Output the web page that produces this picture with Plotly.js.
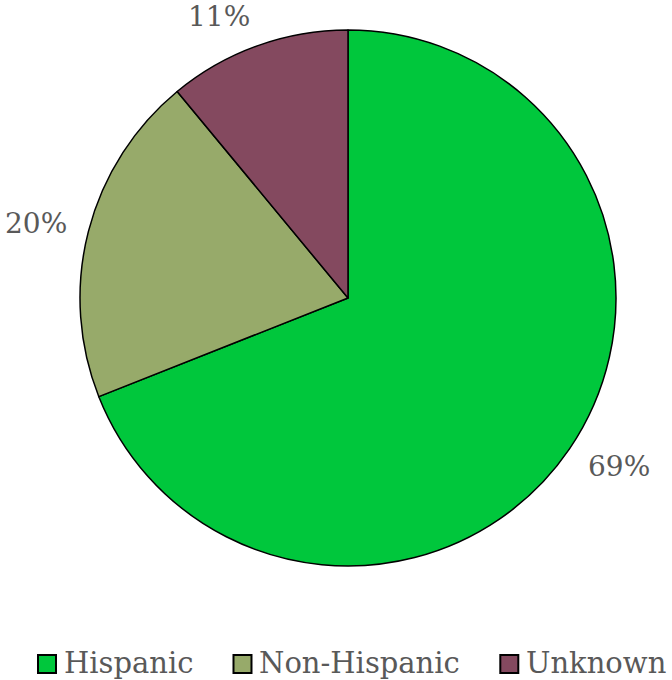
<!DOCTYPE html>
<html>
<head>
<meta charset="utf-8">
<script src="https://cdn.plot.ly/plotly-3.0.1.min.js"></script>
<style>html,body{margin:0;padding:0;background:#fff}#chart{width:672px;height:680px}</style>
</head>
<body>
<div id="chart"></div>
<script>
const categories = ["Hispanic", "Non-Hispanic", "Unknown"];
const values = [69, 20, 11];
const colors = ["#00C73C", "#97AA6A", "#84495F"];

const W = 672, H = 680;
const cx = 348, cy = 298, R = 268, gap = 22;
const FONT = "DejaVu Serif";
const TXT = "#595959";
const domX = [(cx - R) / W, (cx + R) / W];
const domY = [1 - (cy + R) / H, 1 - (cy - R) / H];

const trace = {
  type: "pie",
  labels: categories,
  values: values,
  sort: false,
  direction: "clockwise",
  rotation: 0,
  textinfo: "none",
  marker: {colors: colors, line: {color: "#000000", width: 1.5}},
  domain: {x: domX, y: domY},
  hoverinfo: "none",
  showlegend: false
};

// percentage labels placed just outside each slice's mid-angle
const labSize = 28, halfW = 31, halfH = 9;
const total = values.reduce((a, b) => a + b, 0);
let cum = 0;
const annotations = values.map((v) => {
  const mid = (cum + v / 2) / total * 2 * Math.PI;
  cum += v;
  const s = Math.sin(mid), c = Math.cos(mid);
  const px = cx + (R + gap) * s + halfW * Math.sign(s);
  const py = cy - (R + gap) * c - halfH * c;
  return {
    xref: "paper", yref: "paper", x: px / W, y: 1 - py / H,
    xanchor: "center", yanchor: "middle", showarrow: false,
    text: Math.round(v / total * 100) + "%", borderpad: 0,
    font: {family: FONT, size: labSize, color: TXT}
  };
});

// custom legend: square swatch + label, laid out left to right
const legSize = 29, sw = 18, swGap = 7, itemGap = 41, legY = 663, legX0 = 38;
const ctx = document.createElement("canvas").getContext("2d");
ctx.font = legSize + "px '" + FONT + "'";
const shapes = [];
let lx = legX0;
categories.forEach((name, i) => {
  shapes.push({
    type: "rect", xref: "paper", yref: "paper",
    x0: lx / W, x1: (lx + sw) / W,
    y0: 1 - (legY + 1 + sw / 2) / H, y1: 1 - (legY + 1 - sw / 2) / H,
    fillcolor: colors[i], line: {color: "#000000", width: 2}
  });
  lx += sw + swGap;
  annotations.push({
    xref: "paper", yref: "paper", x: lx / W, y: 1 - legY / H,
    xanchor: "left", yanchor: "middle", showarrow: false,
    text: name, borderpad: 0,
    font: {family: FONT, size: legSize, color: TXT}
  });
  lx += ctx.measureText(name).width + itemGap;
});

const layout = {
  width: W, height: H,
  margin: {l: 0, r: 0, t: 0, b: 0},
  paper_bgcolor: "#ffffff",
  showlegend: false,
  annotations: annotations,
  shapes: shapes
};

Plotly.newPlot("chart", [trace], layout, {displayModeBar: false, staticPlot: true});
</script>
</body>
</html>
